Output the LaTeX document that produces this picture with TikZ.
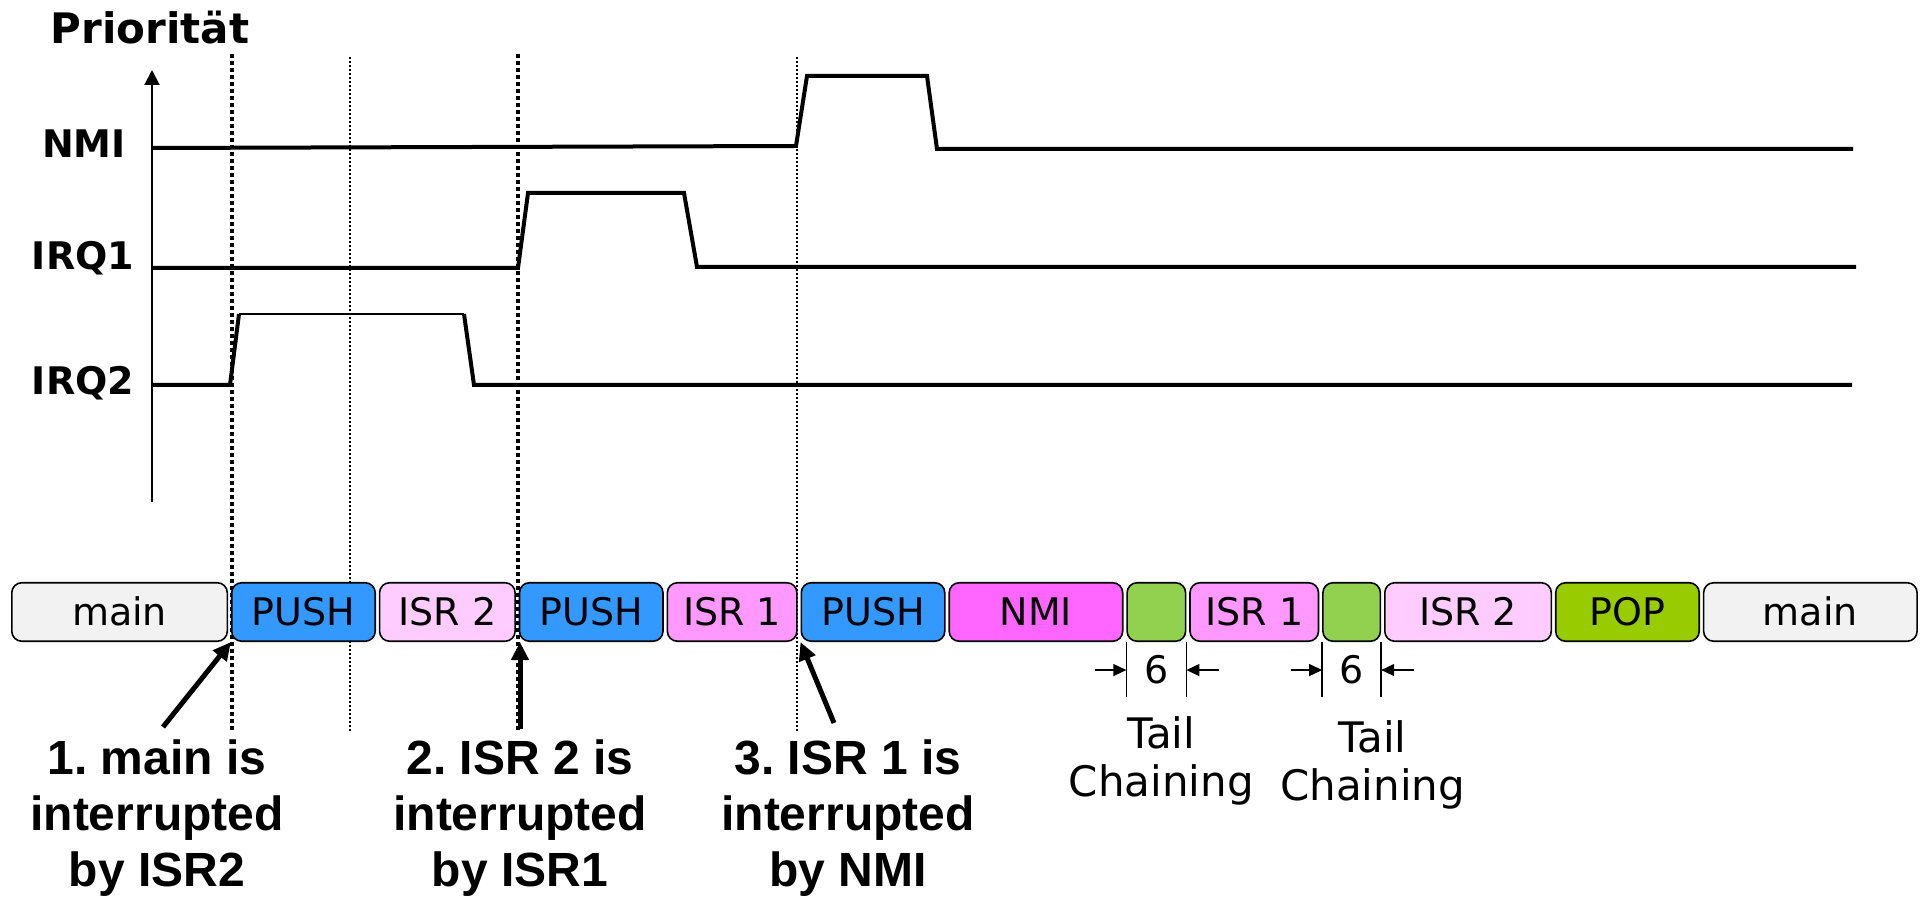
\documentclass[tikz,border=0pt]{standalone}
\usepackage{fontspec}
\setmainfont{DejaVu Sans}
\newfontfamily\notefont{Liberation Sans}
\usetikzlibrary{arrows.meta,positioning}

\definecolor{mainbg}{HTML}{F2F2F2}
\definecolor{pushbg}{HTML}{3399FF}
\definecolor{isrtwo}{HTML}{FFCCFF}
\definecolor{isrone}{HTML}{FF99FF}
\definecolor{nmibg}{HTML}{FF66FF}
\definecolor{tailbg}{HTML}{92D050}
\definecolor{popbg}{HTML}{99CC00}

\frenchspacing

\begin{document}
\begin{tikzpicture}[
    x=0.5pt, y=-0.5pt,
    font=\fontsize{19pt}{23pt}\selectfont,
    sig/.style={line width=2pt},
    guide/.style={line width=2pt, dash pattern=on 2pt off 1.5pt},
    fineguide/.style={line width=1pt, dash pattern=on 1pt off 1pt},
    lvl/.style={font=\fontsize{19pt}{23pt}\selectfont\bfseries, anchor=base},
    slot/.style={draw, line width=0.8pt, rounded corners=5pt, minimum height=29.25pt,
                 inner sep=0pt, text height=14pt, text depth=0pt},
    note/.style={font=\notefont\bfseries\fontsize{24pt}{28pt}\selectfont, align=center,
                 inner sep=0pt, anchor=north},
    tailnote/.style={font=\fontsize{21pt}{24pt}\selectfont, align=center, inner sep=0pt, anchor=north},
    pointer/.style={line width=2.5pt, -{Triangle[length=9pt,width=8.5pt]}},
    dimarrow/.style={line width=0.75pt, -{Triangle[length=6.5pt,width=6pt]}},
    node distance=1.4pt
]
\useasboundingbox (0,0) rectangle (1923,897);

% axis and priority levels
\draw[line width=1pt, -{Triangle[length=7.5pt,width=7.5pt]}] (152,502) -- (152,70);
\node[lvl, font=\fontsize{21pt}{25pt}\selectfont\bfseries] (prio) at (150,44) {Priorität};
\node[lvl] (nmi) at (84,158) {NMI};
\node[lvl] (irq1) at (83,270) {IRQ1};
\node[lvl] (irq2) at (83,395) {IRQ2};

% dotted time marks
\foreach \x in {232,518} \draw[guide] (\x,54) -- (\x,730);
\foreach \x in {350,797} \draw[fineguide] (\x,57) -- (\x,733);

% level traces
\draw[sig] (152,148) -- (796,146) -- (807,76) -- (927,76) -- (937,149) -- (1853,149);
\draw[sig] (152,268) -- (518,268) -- (528,193) -- (684,193) -- (697,267) -- (1856,267);
\draw[sig] (152,385) -- (230,385) -- (239,314);
\draw[line width=1.2pt] (239,314) -- (464,314);
\draw[sig] (464,314) -- (474,385) -- (1852,385);

% execution sequence
\node[slot, fill=mainbg, minimum width=107.75pt, anchor=west] (main1) at (11,612) {main};
\node[slot, fill=pushbg, minimum width=71.75pt, right=of main1] (push1) {PUSH};
\node[slot, fill=isrtwo, minimum width=67.75pt, right=of push1] (isr2a) {ISR 2};
\node[slot, fill=pushbg, minimum width=71.75pt, right=of isr2a] (push2) {PUSH};
\node[slot, fill=isrone, minimum width=64.75pt, right=of push2] (isr1a) {ISR 1};
\node[slot, fill=pushbg, minimum width=71.75pt, right=of isr1a] (push3) {PUSH};
\node[slot, fill=nmibg, minimum width=86.75pt, right=of push3] (nmirun) {NMI};
\node[slot, fill=tailbg, minimum width=29.25pt, right=of nmirun] (tc1) {};
\node[slot, fill=isrone, minimum width=64.25pt, right=of tc1] (isr1b) {ISR 1};
\node[slot, fill=tailbg, minimum width=28.75pt, right=of isr1b] (tc2) {};
\node[slot, fill=isrtwo, minimum width=83.25pt, right=of tc2] (isr2b) {ISR 2};
\node[slot, fill=popbg, minimum width=71.75pt, right=of isr2b] (pop) {POP};
\node[slot, fill=mainbg, minimum width=106.75pt, right=of pop] (main2) {main};

% interrupt notes
\node[note] (note1) at (157,739) {1. main is\\interrupted\\by ISR2};
\node[note] (note2) at (520,739) {2. ISR 2 is\\interrupted\\by ISR1};
\node[note] (note3) at (848,739) {3. ISR 1 is\\interrupted\\by NMI};
\draw[pointer] ([shift={(3pt,6pt)}]note1.north) -- (push1.south west);
\draw[pointer] ([yshift=5pt]note2.north) -- (note2.north |- push2.south);
\draw[pointer] ([shift={(-7pt,8pt)}]note3.north) -- (push3.south west);

% tail chaining gaps
\foreach \g/\dx/\dy [count=\i] in {tc1/2.5/-37, tc2/10.5/-39} {
  \draw[line width=0.75pt] (\g.south west) -- ++(0,55) (\g.south east) -- ++(0,55);
  \draw[dimarrow] ([xshift=-15.5pt,yshift=-14pt]\g.south west) -- ([yshift=-14pt]\g.south west);
  \draw[dimarrow] ([xshift=16.5pt,yshift=-14pt]\g.south east) -- ([yshift=-14pt]\g.south east);
  \node (six\i) at ([yshift=-14pt]\g.south) {6};
  \node[tailnote] (chain\i) at ([xshift=\dx pt,yshift=\dy pt]\g.south) {Tail\\Chaining};
}
\end{tikzpicture}
\end{document}
